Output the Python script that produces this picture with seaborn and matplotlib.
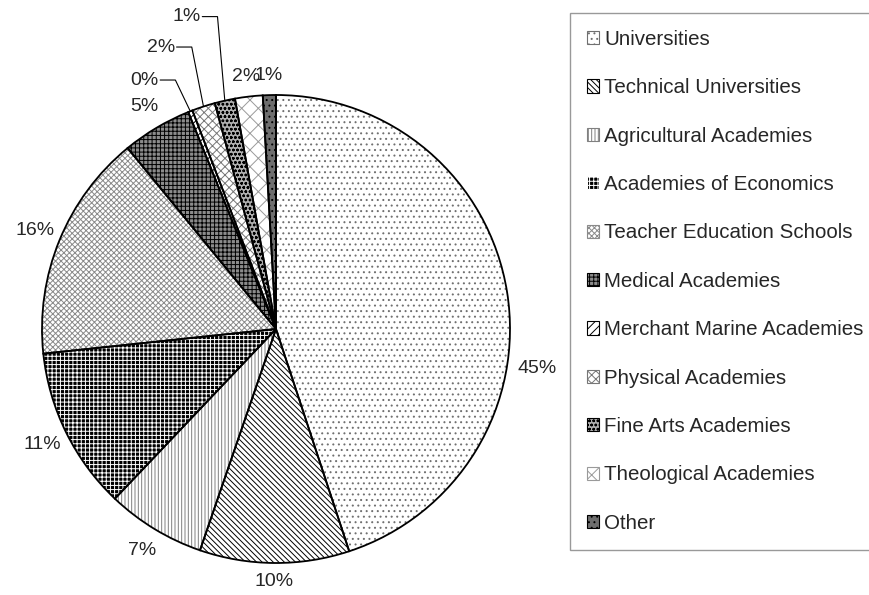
import numpy as np
import seaborn as sns
import matplotlib as mpl
import matplotlib.pyplot as plt

# data (share of students, %)
categories = [
    "Universities",
    "Technical Universities",
    "Agricultural Academies",
    "Academies of Economics",
    "Teacher Education Schools",
    "Medical Academies",
    "Merchant Marine Academies",
    "Physical Academies",
    "Fine Arts Academies",
    "Theological Academies",
    "Other",
]
shares = [44.8, 10.3, 6.8, 11.2, 15.7, 4.8, 0.3, 1.6, 1.4, 1.9, 0.9]

# fill / hatch look of each slice
fills = ["white", "white", "white", "black", "white", "#8c8c8c",
         "white", "white", "#b0b0b0", "white", "#6e6e6e"]
hatch_colors = ["#707070", "black", "#808080", "white", "#8a8a8a", "black",
                "black", "#777777", "black", "#9a9a9a", "black"]
hatches = ["...", "\\" * 6, "|||||", "++++", "xxxxxx", "++++",
           "////", "xxxx", "oooo", "xx", "..."]

sns.set_style("white")
plt.rcParams["font.family"] = ["Liberation Sans", "DejaVu Sans"]
mpl.rcParams["hatch.linewidth"] = 0.7

fig = plt.figure(figsize=(8.7, 5.95), dpi=100)
ax = fig.add_axes([42 / 870, 32 / 595, 468 / 870, 468 / 595])

# hatched slices
wedges, _ = ax.pie(shares, startangle=90, counterclock=False, radius=1,
                   colors=fills, wedgeprops=dict(linewidth=0))
for w, h, hc in zip(wedges, hatches, hatch_colors):
    w.set_hatch(h)
    w.set_edgecolor(hc)
    w.set_linewidth(0)

# black outlines on top
outl, _ = ax.pie(shares, startangle=90, counterclock=False, radius=1,
                 wedgeprops=dict(fill=False, edgecolor="black", linewidth=1.3))

ax.set_xlim(-1, 1)
ax.set_ylim(-1, 1)
ax.set_aspect("equal")
ax.axis("off")

total = sum(shares)
labels = ["%.0f%%" % (v / total * 100) for v in shares]

# labels pulled out with a leader line (right end of text)
leader = {6: (-0.50, 1.064), 7: (-0.43, 1.205), 8: (-0.32, 1.335)}
moved = {0: (1.115, -0.167)}

for i, w in enumerate(wedges):
    mid = np.deg2rad((w.theta1 + w.theta2) / 2)
    cx, cy = np.cos(mid), np.sin(mid)
    if i in leader:
        tx, ty = leader[i]
        ax.text(tx, ty, labels[i], ha="right", va="center", fontsize=14)
        ax.plot([tx + 0.005, tx + 0.07, cx], [ty, ty, cy], color="black",
                lw=0.8, clip_on=False)
        continue
    if i in moved:
        tx, ty = moved[i]
    else:
        d = 1.045 + 0.06 * abs(cx) + 0.035 * abs(cy)
        tx, ty = d * cx, d * cy
    ax.text(tx, ty, labels[i], ha="center", va="center", fontsize=14)

leg = fig.legend(wedges, categories, loc="upper left",
                 bbox_to_anchor=(570 / 870, 1 - 13 / 595), borderaxespad=0,
                 fontsize=14.8, frameon=True, fancybox=False, borderpad=0.82,
                 labelspacing=1.43, handlelength=0.6, handleheight=0.6,
                 handletextpad=0.25)
leg.get_frame().set_edgecolor("#808080")
leg.get_frame().set_linewidth(1.0)
for p in leg.get_patches():
    p.set_linewidth(0.8)

fig.savefig("out.png", dpi=100)
